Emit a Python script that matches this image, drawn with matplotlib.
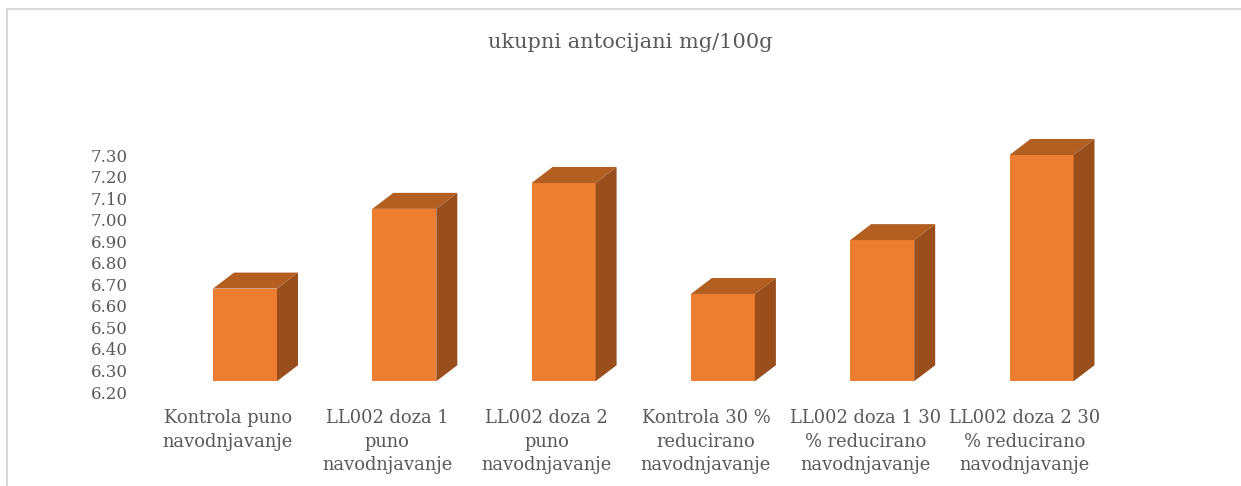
import numpy as np
import matplotlib.pyplot as plt
from matplotlib.patches import Polygon
from matplotlib.lines import Line2D

# data
categories = [
    "Kontrola puno\nnavodnjavanje",
    "LL002 doza 1\npuno\nnavodnjavanje",
    "LL002 doza 2\npuno\nnavodnjavanje",
    "Kontrola 30 %\nreducirano\nnavodnjavanje",
    "LL002 doza 1 30\n% reducirano\nnavodnjavanje",
    "LL002 doza 2 30\n% reducirano\nnavodnjavanje",
]
values = [6.68, 7.05, 7.17, 6.655, 6.905, 7.30]
y_ticks = [6.20, 6.30, 6.40, 6.50, 6.60, 6.70, 6.80, 6.90, 7.00, 7.10, 7.20, 7.30]
base = 6.25

W, H = 1241, 486
front_col = '#ED7D31'
top_col = '#B45F22'
side_col = '#9A4E1C'
text_col = '#595959'

plt.rcParams['font.family'] = ['DejaVu Serif']

fig = plt.figure(figsize=(W / 100, H / 100), dpi=100)

# axes placed by pixel positions
px_left, px_right = 130, 1150
px_y0, px_y1 = 392, 155  # pixel rows for 6.20 and 7.30
ax = fig.add_axes([px_left / W, (H - px_y0) / H, (px_right - px_left) / W, (px_y0 - px_y1) / H])

spacing = 159.3
x0_px = 245
ax.set_xlim((px_left - x0_px) / spacing, (px_right - x0_px) / spacing)
ax.set_ylim(6.20, 7.30)

x = np.arange(len(values))
bw = 64 / spacing
dx = 21 / spacing
dy = 16 / ((px_y0 - px_y1) / 1.1)

ax.bar(x, np.array(values) - base, bottom=base, width=bw, color=front_col,
       edgecolor='none', zorder=3)
for xi, v in zip(x, values):
    l, r = xi - bw / 2, xi + bw / 2
    top = Polygon([(l, v), (r, v), (r + dx, v + dy), (l + dx, v + dy)],
                  closed=True, facecolor=top_col, edgecolor='none', clip_on=False, zorder=3)
    side = Polygon([(r, base), (r, v), (r + dx, v + dy), (r + dx, base + dy)],
                   closed=True, facecolor=side_col, edgecolor='none', clip_on=False, zorder=3)
    ax.add_patch(top)
    ax.add_patch(side)

ax.set_yticks(y_ticks)
ax.set_yticklabels([f"{t:.2f}" for t in y_ticks])
ax.set_xticks(x - 17 / spacing)
ax.set_xticklabels(categories, linespacing=1.38)
ax.tick_params(axis='y', length=0, pad=1.5, labelsize=12, labelcolor=text_col)
ax.tick_params(axis='x', length=0, pad=12.5, labelsize=12.9, labelcolor=text_col)
for s in ax.spines.values():
    s.set_visible(False)

fig.text(630 / W, 1 - 42 / H, "ukupni antocijani mg/100g", ha='center', va='center',
         fontsize=15, color=text_col)

# chart frame (top and left visible)
fig.add_artist(Line2D([6.5 / W, 1], [1 - 9.5 / H, 1 - 9.5 / H], color='#D9D9D9', lw=1.5))
fig.add_artist(Line2D([6.5 / W, 6.5 / W], [0, 1 - 9.5 / H], color='#D9D9D9', lw=1.5))

fig.savefig('out.png', dpi=100)
